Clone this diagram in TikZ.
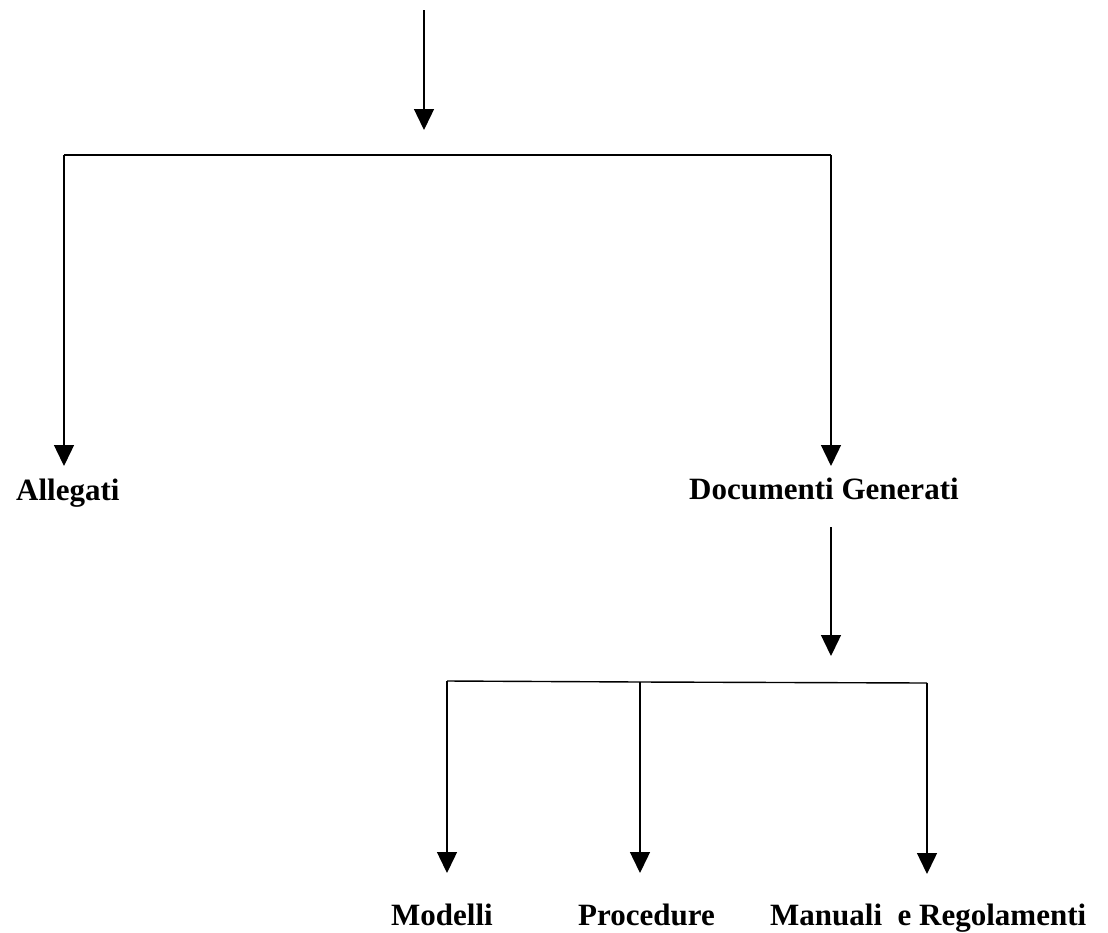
\documentclass[tikz,border=0pt]{standalone}
\usepackage{fontspec}
\setmainfont{Liberation Serif}
\usetikzlibrary{arrows.meta}
\begin{document}
\begin{tikzpicture}[x=1pt,y=-1pt,
  conn/.style={line width=1.4pt},
  arr/.style={conn, -{Triangle[width=20pt,length=21pt]}},
  lbl/.style={anchor=base west, inner sep=0pt, font=\fontsize{31}{36}\selectfont\bfseries}]
\useasboundingbox (0,0) rectangle (1108,932);
% labels
\node[lbl] (allegati) at (16,500) {Allegati};
\node[lbl] (docgen) at (689,499) {Documenti Generati};
\node[lbl] (modelli) at (391,925) {Modelli};
\node[lbl] (procedure) at (578,925) {Procedure};
\node[lbl] (manuali) at (770,925) {Manuali\ \ e Regolamenti};
% junction coordinates
\coordinate (src) at (424,10);
\coordinate (srctip) at (424,130);
\coordinate (barL) at (64,155);
\coordinate (barR) at (831,155);
\coordinate (tipA) at (64,466);
\coordinate (tipD) at (831,466);
\coordinate (dgout) at (831,527);
\coordinate (dgtip) at (831,656);
\coordinate (b1) at (447,681);
\coordinate (b2) at (640,682);
\coordinate (b3) at (927,683);
\coordinate (t1) at (447,873);
\coordinate (t2) at (640,873);
\coordinate (t3) at (927,874);
% connectors
\draw[arr] (src) -- (srctip);
\draw[conn] (barL) -- (barR);
\draw[arr] (barL) -- (tipA);
\draw[arr] (barR) -- (tipD);
\draw[arr] (dgout) -- (dgtip);
\draw[conn] (b1) -- (b2) -- (b3);
\draw[arr] (b1) -- (t1);
\draw[arr] (b2) -- (t2);
\draw[arr] (b3) -- (t3);
\end{tikzpicture}
\end{document}
